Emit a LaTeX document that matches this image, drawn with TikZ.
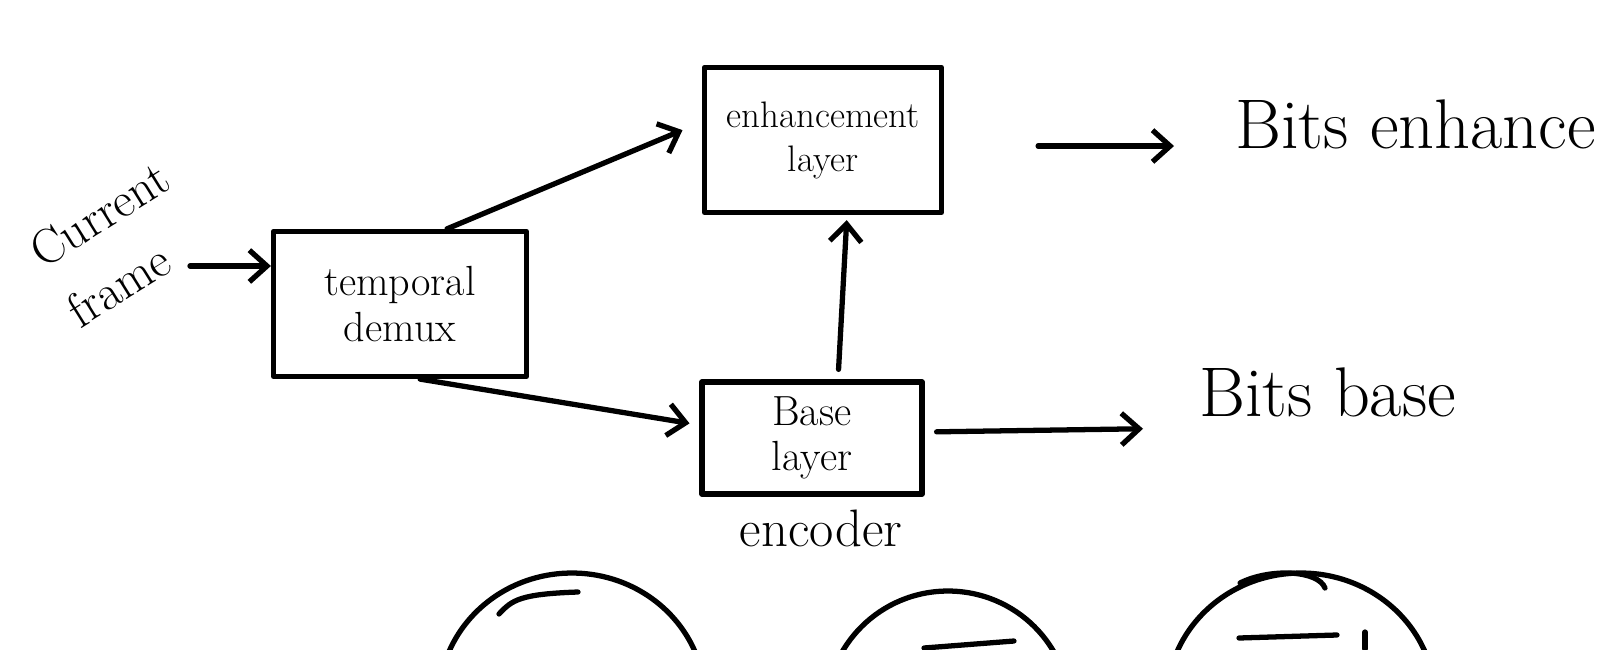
\documentclass[tikz,border=0pt]{standalone}
\usetikzlibrary{arrows.meta}
\begin{document}
\begin{tikzpicture}
		[x=0.02cm, y=-0.02cm, line width=3pt, line cap=round, line join=round,
		every node/.style={align=center, inner sep=2pt},
		block/.style={draw, font=\fontsize{24}{26}\selectfont, minimum width=#1, inner sep=0pt},
		bits/.style={anchor=west, font=\fontsize{40}{44}\selectfont},
		hand/.style={font=\fontsize{28}{40}\selectfont, rotate=32, align=left},
		arr/.style={-{Straight Barb[length=10pt,width=18pt,line width=3pt]}},
		]

		\useasboundingbox (0,0) rectangle (1619,649);
		\clip (0,0) rectangle (1619,649);

		\node[block=5.06cm, minimum height=2.9cm] (demux) at (400,304) {temporal\\demux};
		\node[block=4.74cm, minimum height=2.9cm, font=\fontsize{21}{25}\selectfont] (enh) at (823,140) {enhancement\\layer};
		\node[block=4.4cm, minimum height=2.24cm] (base) at (812,438) {Base\\layer};
		\node[font=\fontsize{30}{32}\selectfont] (enc) at (821,528) {encoder};

		\node[hand] (cframe) at (118,244) {Current\\frame};
		\coordinate (cf) at (190,266);

		\node[bits] (bitsenh) at (1229,124) {Bits enhance};
		\node[bits] (bitsbase) at (1193,392) {Bits base};

		% arrows between the parts
		\draw[arr] (cf) -- (demux.west |- cf);
		\draw[arr, shorten >=0.42cm] (demux.58) -- (enh.west |- 684,122);
		\draw[arr, shorten >=0.2cm] (demux.-75) -- (base.west |- 692,425);
		\draw[arr, shorten <=0.2cm, shorten >=0.1cm] (base.north -| 838,0) -- (enh.south -| 847,0);
		\draw[arr, shorten <=1.88cm, shorten >=1.1cm] (enh.east |- 0,146) -- (bitsenh.west |- 0,146);
		\draw[arr, shorten <=0.24cm, shorten >=1.0cm] (base.east |- 0,432) -- (bitsbase.west |- 0,428);

		% shapes along the lower edge
		\draw (572,700) ellipse [x radius=2.66cm, y radius=2.54cm];
		\draw (499,614) .. controls (512,600) and (520,594) .. (578,592);
		\draw (948,712) ellipse [x radius=2.44cm, y radius=2.42cm];
		\draw (924,648) -- (1014,641);
		\draw (1301,700) ellipse [x radius=2.68cm, y radius=2.54cm];
		\draw (1240,583) .. controls (1270,568) and (1318,570) .. (1325,588);
		\draw (1239,638) -- (1337,635);
		\draw (1365,632) -- (1365,649);
	\end{tikzpicture}
\end{document}
